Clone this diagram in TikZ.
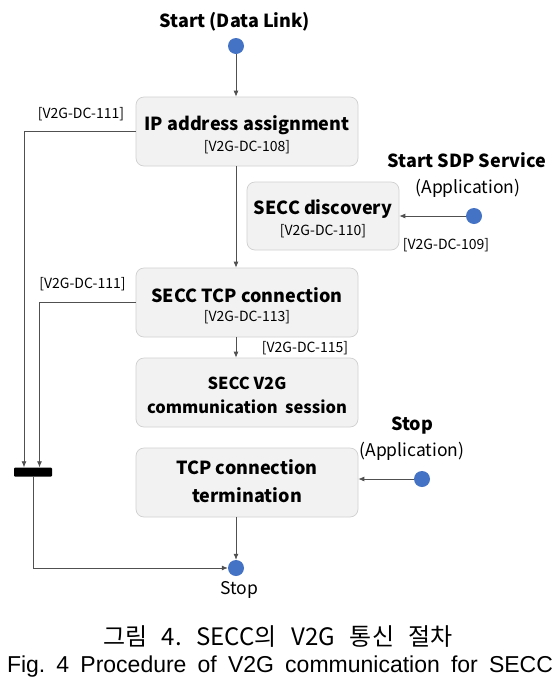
\documentclass[tikz,border=0pt]{standalone}
\usepackage{fontspec}
\setmainfont{Noto Sans CJK KR}
\newfontfamily\capfont{Liberation Sans}
\newfontfamily\korfont{Noto Sans CJK KR}
\usetikzlibrary{arrows.meta}
\definecolor{boxfill}{HTML}{F2F2F2}
\definecolor{boxline}{HTML}{D0D0D0}
\definecolor{dotblue}{HTML}{4472C4}
\definecolor{lineclr}{HTML}{505050}
\begin{document}
\frenchspacing
\begin{tikzpicture}[x=1pt,y=-1pt,
  box/.style={draw=boxline, fill=boxfill, rounded corners=8pt, line width=0.7pt, inner sep=0pt},
  dot/.style={circle, fill=dotblue, inner sep=0pt, minimum size=16pt},
  conn/.style={draw=lineclr, line width=0.8pt},
  arr/.style={conn, -{Latex[length=6pt,width=5pt]}},
  ttl/.style={font=\fontsize{18}{20}\selectfont\bfseries, anchor=base, inner sep=0pt},
  ttls/.style={font=\fontsize{16.5}{19}\selectfont\bfseries, anchor=base, inner sep=0pt},
  code/.style={font=\fontsize{14}{16}\selectfont, anchor=base, inner sep=0pt},
  reg/.style={font=\fontsize{17.5}{19}\selectfont, anchor=base, inner sep=0pt},
]
\useasboundingbox (0,0) rectangle (560,686);
\fill[white] (0,0) rectangle (560,686);

% boxes
\node[box, minimum width=222pt, minimum height=69pt] (ip)   at (247,131.5) {};
\node[box, minimum width=152pt, minimum height=68pt] (disc) at (323,216) {};
\node[box, minimum width=222pt, minimum height=69pt] (tcp)  at (247,302.5) {};
\node[box, minimum width=222pt, minimum height=69pt] (v2g)  at (247,392.5) {};
\node[box, minimum width=222pt, minimum height=69pt] (term) at (247,482.5) {};

% box texts
\node[ttl] (ipt) at (247,130) {IP address assignment};
\node[code] (ipc) at (247,151) {[V2G-DC-108]};
\node[ttl] (disct) at (323,214) {SECC discovery};
\node[code] (discc) at (323,235) {[V2G-DC-110]};
\node[ttl] (tcpt) at (247,302) {SECC TCP connection};
\node[code] (tcpc) at (247,321) {[V2G-DC-113]};
\node[ttls] (v2gt1) at (247,389) {SECC V2G};
\node[ttls] (v2gt2) at (247,413) {communication\ \ session};
\node[ttl] (termt1) at (247,474) {TCP connection};
\node[ttl] (termt2) at (247,502) {termination};

% dots
\node[dot] (d1) at (236,46) {};
\node[dot] (dsdp) at (474,216) {};
\node[dot] (dapp) at (422,479) {};
\node[dot] (dstop) at (236,568) {};

% bar
\node[fill=black, minimum width=38pt, minimum height=9pt, inner sep=0pt, rounded corners=1pt] (bar) at (33,472) {};
\coordinate (j1) at (24,472);
\coordinate (j2) at (39.5,472);

% outer texts
\node[ttl] (st) at (235,27) {Start (Data Link)};
\node[ttl] (sdp) at (467,167) {Start SDP Service};
\node[reg] (sdpa) at (468,193) {(Application)};
\node[ttl] (stp) at (412,430) {Stop};
\node[reg] (stpa) at (412,456) {(Application)};
\node[reg] (stpe) at (239,594) {Stop};
\node[code] (c111a) at (81,118) {[V2G-DC-111]};
\node[code] (c111b) at (82.5,288) {[V2G-DC-111]};
\node[code] (c109) at (446,249) {[V2G-DC-109]};
\node[code] (c115) at (305,352) {[V2G-DC-115]};

% connectors
\draw[arr] (d1.south) -- (d1.south |- ip.north);
\draw[arr] (ip.south -| d1) -- (tcp.north -| d1);
\draw[arr] (dsdp.west) -- (disc.east);
\draw[arr] (tcp.south -| d1) -- (v2g.north -| d1);
\draw[arr] (dapp.west) -- (term.east |- dapp);
\draw[arr] (term.south -| d1) -- (dstop.north);
\draw[arr] (ip.west) -| (bar.north -| j1);
\draw[arr] (tcp.west) -| (bar.north -| j2);
\draw[arr] (bar.south) |- (dstop.west);

% caption
\node[font=\korfont\fontsize{24}{26}\selectfont, anchor=base, inner sep=0pt] (cap1) at (278,645) {\makebox[350pt][s]{그림 4. SECC의 V2G 통신 절차}};
\node[font=\capfont\fontsize{23}{26}\selectfont, anchor=base, inner sep=0pt] (cap2) at (280,672) {\makebox[546pt][s]{Fig. 4 Procedure of V2G communication for SECC}};
\end{tikzpicture}
\end{document}
